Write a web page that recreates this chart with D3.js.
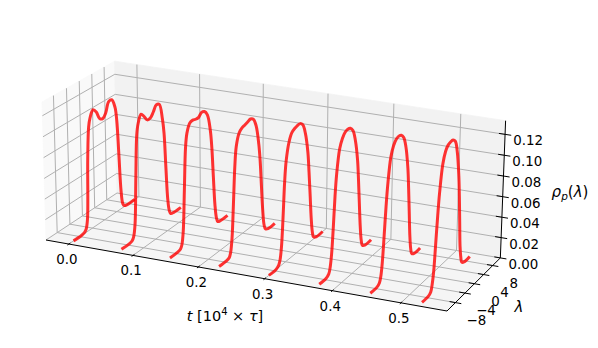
<!DOCTYPE html>
<html>
<head>
<meta charset="utf-8">
<script src="https://d3js.org/d3.v7.min.js"></script>
<style>
	body { margin: 0; background: white; }
	svg { display: block; }
	text { font-family: "DejaVu Sans", sans-serif; fill: #000; }
</style>
</head>
<body>
<svg width="598" height="348"></svg>
<script>
	// values
	var times = [0, 0.075, 0.15, 0.225, 0.3, 0.375, 0.45, 0.525];
	var lambdas = [-10, -7.5, -6.5, -6, -5.5, -5, -4.5, -4, -3, -2, -1, 0, 1, 2, 3, 4, 4.5, 5, 5.5, 6, 6.5, 7.5, 10];
	var rho0 = [0, 0, .001, .003, .012, .07, .1, .108, .114, .11, .102, .1, .104, .113, .113, .104, .09, .055, .018, .004, .001, 0, 0];
	var rho1 = [0, 0, .001, .004, .015, .06, .1, .11, .117, .113, .108, .108, .112, .117, .116, .1, .085, .05, .018, .005, .001, 0, 0];
	var rho2 = [0, 0, .001, .004, .016, .055, .095, .108, .116, .117, .116, .116, .119, .118, .113, .096, .078, .048, .02, .006, .001, 0, 0];
	var rho3 = [0, 0, .001, .005, .018, .05, .085, .103, .114, .117, .118, .119, .12, .118, .11, .09, .073, .047, .022, .007, .002, 0, 0];
	var rho4 = [0, 0, .002, .006, .018, .045, .078, .097, .113, .12, .122, .123, .123, .12, .11, .09, .07, .047, .023, .008, .002, 0, 0];
	var rho5 = [0, 0, .002, .007, .019, .043, .072, .092, .114, .122, .126, .127, .126, .122, .111, .09, .07, .046, .023, .008, .002, 0, 0];
	var rho6 = [0, 0, .002, .007, .02, .044, .07, .09, .114, .123, .127, .128, .127, .123, .112, .09, .07, .046, .022, .008, .002, 0, 0];
	var rho7 = [0, 0, .002, .008, .02, .045, .07, .09, .115, .125, .129, .13, .13, .127, .115, .09, .07, .045, .02, .008, .002, 0, 0];
	var rhos = [rho0, rho1, rho2, rho3, rho4, rho5, rho6, rho7];

	var tTicks = [0, 0.1, 0.2, 0.3, 0.4, 0.5];
	var lambdaTicks = [-8, -4, 0, 4, 8];
	var rhoTicks = [0, 0.02, 0.04, 0.06, 0.08, 0.10, 0.12];

	var svg = d3.select("svg");

	// data -> unit cube
	var u = d3.scaleLinear().domain([-0.036, 0.566]).range([0, 1]);
	var v = d3.scaleLinear().domain([-11.46, 11.46]).range([0, 1]);
	var w = d3.scaleLinear().domain([0, 0.133]).range([0, 1]);

	// unit cube -> screen, corners of the box and the perspective terms
	var O = [46, 240], U = [447, 311], V = [117, 193], W = [42, 102];
	var pu = -0.05, pv = 0.053, pw = -0.02;

	function project(a, b, c) {
		var d = 1 + pu * a + pv * b + pw * c;
		return [0, 1].map(function(i) {
			return (O[i] + a * (U[i] * (1 + pu) - O[i]) + b * (V[i] * (1 + pv) - O[i]) + c * (W[i] * (1 + pw) - O[i])) / d;
		});
	}

	var path = d3.line();
	function poly(pts, fill, stroke, sw) {
		return svg.append("path")
			.attr("d", path(pts.map(function(p) { return project(p[0], p[1], p[2]); })) + (fill != "none" ? "Z" : ""))
			.attr("fill", fill)
			.attr("stroke", stroke)
			.attr("stroke-width", sw);
	}

	// panes
	poly([[0,0,0],[0,1,0],[0,1,1],[0,0,1]], "#f9f9f9", "#f9f9f9", 0.8);
	poly([[0,1,0],[1,1,0],[1,1,1],[0,1,1]], "#f2f2f2", "#f2f2f2", 0.8);
	poly([[0,0,0],[1,0,0],[1,1,0],[0,1,0]], "#f5f5f5", "#f5f5f5", 0.8);

	// grid
	tTicks.forEach(function(t) {
		poly([[u(t),0,0],[u(t),1,0],[u(t),1,1]], "none", "#b0b0b0", 1);
	});
	lambdaTicks.forEach(function(l) {
		poly([[1,v(l),0],[0,v(l),0],[0,v(l),1]], "none", "#b0b0b0", 1);
	});
	rhoTicks.forEach(function(r) {
		poly([[1,1,w(r)],[0,1,w(r)],[0,0,w(r)]], "none", "#b0b0b0", 1);
	});

	// axis lines and ticks
	poly([[0,0,0],[1,0,0]], "none", "#000", 1);
	poly([[1,0,0],[1,1,0]], "none", "#000", 1);
	poly([[1,1,0],[1,1,1]], "none", "#000", 1);

	function label(p, dx, dy, s) {
		svg.append("text").attr("x", p[0] + dx).attr("y", p[1] + dy)
			.attr("text-anchor", "middle").attr("font-size", 13.4).text(s);
	}

	tTicks.forEach(function(t) {
		poly([[u(t),-0.02,0],[u(t),0.02,0]], "none", "#000", 1);
		label(project(u(t), 0, 0), -2, 20, d3.format(".1f")(t));
	});
	lambdaTicks.forEach(function(l) {
		poly([[0.986,v(l),0],[1.014,v(l),0]], "none", "#000", 1);
		label(project(1, v(l), 0), 21, 22, d3.format("d")(l).replace("-", "\u2212"));
	});
	rhoTicks.forEach(function(r) {
		poly([[0.985,1,w(r)],[1.015,1,w(r)]], "none", "#000", 1);
		label(project(1, 1, w(r)), 23, 11, d3.format(".2f")(r));
	});

	// curves, in t order
	var curve = d3.line().curve(d3.curveCatmullRom.alpha(0.5));
	times.forEach(function(t, i) {
		var pts = lambdas.map(function(l, j) { return project(u(t), v(l), w(rhos[i][j])); });
		svg.append("path")
			.attr("d", curve(pts))
			.attr("fill", "none")
			.attr("stroke", "red")
			.attr("stroke-opacity", 0.8)
			.attr("stroke-width", 3);
	});

	// axis titles
	var tLabel = svg.append("text").attr("x", 225).attr("y", 321).attr("text-anchor", "middle").attr("font-size", 14.5);
	tLabel.append("tspan").attr("font-style", "italic").text("t");
	tLabel.append("tspan").text(" [10");
	tLabel.append("tspan").attr("font-size", 10).attr("dy", -6).text("4");
	tLabel.append("tspan").attr("dy", 6).text(" \u00d7 ");
	tLabel.append("tspan").attr("font-style", "italic").text("\u03c4");
	tLabel.append("tspan").text("]");

	svg.append("text").attr("x", 519).attr("y", 312).attr("text-anchor", "middle")
		.attr("font-size", 15).attr("font-style", "italic").text("\u03bb");

	var rLabel = svg.append("text").attr("x", 570).attr("y", 197).attr("text-anchor", "middle").attr("font-size", 15);
	rLabel.append("tspan").attr("font-style", "italic").text("\u03c1");
	rLabel.append("tspan").attr("font-size", 10.5).attr("font-style", "italic").attr("dy", 3).text("p");
	rLabel.append("tspan").attr("dy", -3).text("(");
	rLabel.append("tspan").attr("font-style", "italic").text("\u03bb");
	rLabel.append("tspan").text(")");
</script>
</body>
</html>
